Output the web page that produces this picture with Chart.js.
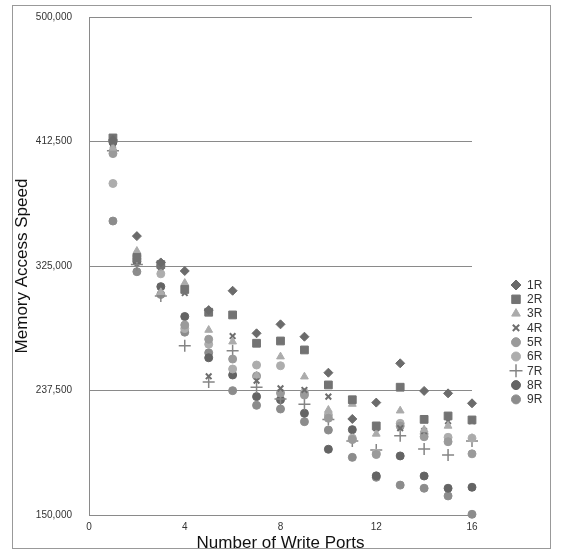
<!DOCTYPE html>
<html>
<head>
<meta charset="utf-8">
<script src="https://cdn.jsdelivr.net/npm/chart.js@4.4.1/dist/chart.umd.min.js"></script>
<style>
  html, body { margin: 0; padding: 0; background: #fff; }
  #wrap { position: relative; width: 564px; height: 554px; }
  #frame { position: absolute; left: 12px; top: 5px; width: 539px; height: 544px; border: 1px solid #999; box-sizing: border-box; }
  canvas { position: absolute; left: 0; top: 0; }
</style>
</head>
<body>
<div id="wrap">
  <div id="frame"></div>
  <canvas id="chart" width="564" height="554"></canvas>
</div>
<script>
"use strict"

// number of write ports
const ports = [1, 2, 3, 4, 5, 6, 7, 8, 9, 10, 11, 12, 13, 14, 15, 16];

const serie1R = [413500, 346000, 327500, 321500, 294000, 307600, 277700, 284000, 275300, 250000, 217500, 229000, 256600, 237200, 235500, 228500];
const serie2R = [415000, 331000, 326000, 308500, 292500, 290600, 270700, 272300, 266000, 241400, 231000, 212600, 239800, 217200, 219600, 216800];
const serie3R = [408000, 335500, 306500, 313000, 280000, 271800, 248000, 261300, 247200, 223800, 228000, 207000, 223300, 210000, 212600, 204000];
const serie4R = [410000, 329000, 324500, 306000, 247500, 275800, 244400, 239000, 237900, 233200, 230000, 211000, 211000, 209000, 216000, 216000];
const serie5R = [404000, 330000, 325000, 283500, 273500, 259600, 247700, 235700, 234300, 218000, 203000, 192500, 212500, 205000, 201500, 193000];
const serie6R = [383000, 332000, 319500, 281000, 270000, 252600, 255400, 254900, 236000, 220300, 204000, 193500, 214400, 207000, 204600, 204000];
const serie7R = [406000, 326000, 304000, 269000, 243500, 265500, 239700, 231500, 227800, 217200, 202000, 195700, 205700, 196400, 192200, 202000];
const serie8R = [412000, 328000, 310500, 289500, 260500, 248400, 233200, 231000, 221500, 196200, 210000, 177500, 191500, 177400, 168800, 169500];
const serie9R = [356600, 321000, 305000, 278500, 264000, 237400, 227100, 224500, 215600, 209700, 190500, 176500, 171000, 168800, 163400, 150500];

const yTicks = [150000, 237500, 325000, 412500, 500000];
const xTicks = [0, 4, 8, 12, 16];

const fuente = "'Liberation Sans', Arial, sans-serif";

function puntos(valores) {
    return valores.map((v, i) => ({ x: ports[i], y: v }));
}

const series = [
    { label: "1R", data: serie1R, color: "#6b6b6b", style: "rectRot", radius: 4.5, border: 1 },
    { label: "2R", data: serie2R, color: "#737373", style: "rect", radius: 5.5, border: 1 },
    { label: "3R", data: serie3R, color: "#ababab", style: "triangle", radius: 4.5, border: 1 },
    { label: "4R", data: serie4R, color: "#6e6e6e", style: "crossRot", radius: 4, border: 2 },
    { label: "5R", data: serie5R, color: "#9a9a9a", style: "circle", radius: 4, border: 1 },
    { label: "6R", data: serie6R, color: "#adadad", style: "circle", radius: 4, border: 1 },
    { label: "7R", data: serie7R, color: "#858585", style: "cross", radius: 6, border: 1.5 },
    { label: "8R", data: serie8R, color: "#646464", style: "circle", radius: 4, border: 1 },
    { label: "9R", data: serie9R, color: "#8c8c8c", style: "circle", radius: 4, border: 1 }
];

const leyenda = {
    id: "leyenda",
    afterDraw(chart) {
        const ctx = chart.ctx;
        ctx.save();
        series.forEach((s, i) => {
            const y = 285 + i * 14.3;
            ctx.fillStyle = s.color;
            ctx.strokeStyle = s.color;
            ctx.lineWidth = s.border;
            Chart.helpers.drawPoint(ctx, { pointStyle: s.style, radius: s.radius + 0.5, borderWidth: s.border, rotation: 0 }, 516, y);
            ctx.fillStyle = "#333";
            ctx.font = "12px " + fuente;
            ctx.textAlign = "left";
            ctx.textBaseline = "middle";
            ctx.fillText(s.label, 527, y + 0.5);
        });
        ctx.restore();
    }
};

let ctx = document.getElementById("chart").getContext("2d");

new Chart(ctx, {
    type: "scatter",
    data: {
        datasets: series.map(s => ({
            label: s.label,
            data: puntos(s.data),
            pointStyle: s.style,
            pointRadius: s.radius,
            pointHoverRadius: s.radius,
            backgroundColor: s.color,
            borderColor: s.color,
            borderWidth: s.border,
            clip: false
        }))
    },
    options: {
        responsive: false,
        animation: false,
        layout: { padding: { left: 0, top: 17, right: 92, bottom: 0 } },
        plugins: {
            legend: { display: false },
            tooltip: { enabled: false }
        },
        scales: {
            x: {
                type: "linear",
                min: 0,
                max: 16,
                afterBuildTicks: axis => { axis.ticks = xTicks.map(v => ({ value: v })); },
                afterFit: axis => { axis.height = 39; },
                grid: { display: false, drawTicks: false },
                border: { display: false },
                ticks: { color: "#333", font: { family: fuente, size: 10 }, padding: 6 },
                title: {
                    display: true,
                    text: "Number of Write Ports",
                    color: "#111",
                    font: { family: fuente, size: 17, lineHeight: 1.2 },
                    padding: { top: 0, bottom: 0 }
                }
            },
            y: {
                type: "linear",
                min: 150000,
                max: 500000,
                afterBuildTicks: axis => { axis.ticks = yTicks.map(v => ({ value: v })); },
                afterFit: axis => {
                    axis.width = 89;
                    axis.paddingTop = 6;
                    axis.paddingBottom = 6;
                },
                grid: { color: "#8a8a8a", lineWidth: 1, drawTicks: false },
                border: { display: true, color: "#8a8a8a", width: 1 },
                ticks: {
                    color: "#333",
                    font: { family: fuente, size: 10 },
                    padding: 17,
                    callback: v => v.toLocaleString("en-US")
                },
                title: {
                    display: true,
                    text: "Memory Access Speed",
                    color: "#111",
                    font: { family: fuente, size: 17, lineHeight: 1.2 },
                    padding: { top: 12, bottom: 0 }
                }
            }
        }
    },
    plugins: [leyenda]
});
</script>
</body>
</html>
